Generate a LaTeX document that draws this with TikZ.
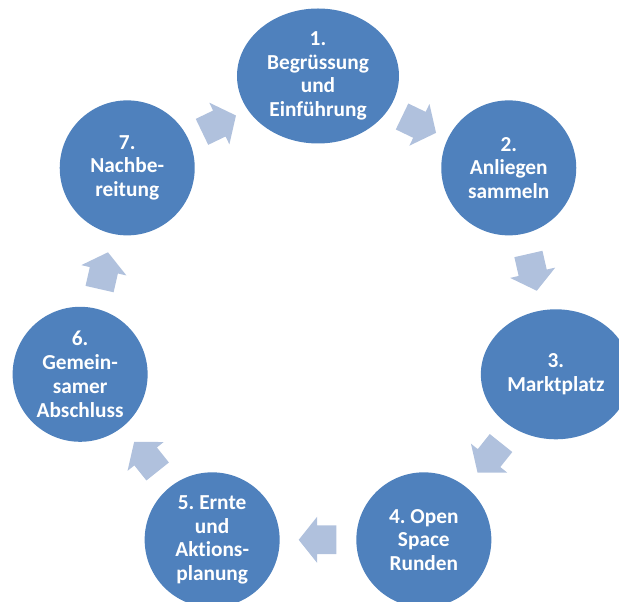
\documentclass[tikz,border=0pt]{standalone}
\usepackage{fontspec}
\setmainfont{Carlito}[Ligatures=NoCommon]
\frenchspacing
\usetikzlibrary{shapes.geometric,shapes.arrows}
\definecolor{phaseblue}{HTML}{4F81BD}
\definecolor{arrowblue}{HTML}{B0C1DD}
\begin{document}
\begin{tikzpicture}[
    phase/.style={circle, fill=phaseblue, minimum size=101.25pt, inner sep=-12pt, align=center, text=white, font=\fontsize{16}{17.8}\selectfont\bfseries},
    widephase/.style={phase, ellipse, minimum width=121.5pt, minimum height=101.25pt},
    flowarrow/.style={single arrow, fill=arrowblue, minimum height=28.3pt, minimum width=0pt, inner xsep=0pt, inner ysep=10.6pt, single arrow head extend=6.55pt, single arrow tip angle=102.8, pos=0.43, sloped, allow upside down}
]

% Visible area
\clip (-238.5pt,-211.5pt) rectangle (225.75pt,240pt);

% Step 1: Welcome
\node[widephase] (begruessung) at (90:183pt) {1.\\Begrüssung\\und\\Einführung};

% Step 2: Collect topics
\node[phase] (anliegen) at (38.57:183pt) {2.\\Anliegen\\sammeln};

% Step 3: Market place
\node[phase, ellipse, minimum width=112.5pt, minimum height=97.5pt] (markt) at (-12.86:183pt) {3.\\Marktplatz};

% Step 4: Sessions
\node[phase] (runden) at (-64.29:183pt) {4. Open\\Space\\Runden};

% Step 5: Harvest
\node[phase] (ernte) at (-115.71:183pt) {5. Ernte\\und\\Aktions-\\planung};

% Step 6: Closing
\node[phase] (abschluss) at (-167.14:183pt) {6.\\Gemein-\\samer\\Abschluss};

% Step 7: Follow-up
\node[phase] (nachbe) at (141.43:183pt) {7.\\Nachbe-\\reitung};

% Arrows
\path (begruessung) -- (anliegen) node[flowarrow] {};
\path (anliegen) -- (markt) node[flowarrow] {};
\path (markt) -- (runden) node[flowarrow] {};
\path (runden) -- (ernte) node[flowarrow] {};
\path (ernte) -- (abschluss) node[flowarrow] {};
\path (abschluss) -- (nachbe) node[flowarrow] {};
\path (nachbe) -- (begruessung) node[flowarrow] {};

\end{tikzpicture}
\end{document}
